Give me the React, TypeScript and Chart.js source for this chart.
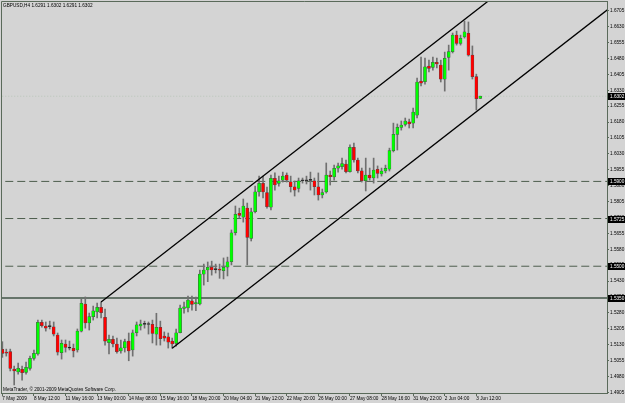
import React, { useEffect, useRef } from "react";
import { Chart, registerables } from "chart.js";

Chart.register(...registerables);

const TITLE = "GBPUSD,H4 1.6291 1.6302 1.6291 1.6302";
const COPYRIGHT = "MetaTrader, \u00A9 2001-2009 MetaQuotes Software Corp.";

const OPEN = [
  1.5108, 1.5095, 1.5097, 1.5015, 1.5002, 1.5014, 1.4999, 1.5018, 1.5065, 1.5086,
  1.5235, 1.5218, 1.5216, 1.5214, 1.5175, 1.5092, 1.5133, 1.5116, 1.5113, 1.5105,
  1.5194, 1.5322, 1.5233, 1.5262, 1.5285, 1.5306, 1.5259, 1.5139, 1.5155, 1.5133,
  1.5101, 1.5115, 1.5147, 1.5105, 1.5186, 1.5218, 1.5227, 1.5226, 1.5226, 1.5180,
  1.5212, 1.5171, 1.5167, 1.5147, 1.5136, 1.5186, 1.5301, 1.5303, 1.5337, 1.5322,
  1.5322, 1.5463, 1.5482, 1.5495, 1.5485, 1.5486, 1.5479, 1.5495, 1.5521, 1.5658,
  1.5749, 1.5731, 1.5774, 1.5631, 1.5757, 1.5851, 1.5891, 1.5847, 1.5778, 1.5915,
  1.5891, 1.5906, 1.5930, 1.5898, 1.5875, 1.5867, 1.5903, 1.5904, 1.5906, 1.5903,
  1.5875, 1.5836, 1.5851, 1.5930, 1.5921, 1.5962, 1.5969, 1.5982, 1.5946, 1.6061,
  1.6001, 1.5950, 1.5903, 1.5930, 1.5917, 1.5957, 1.5935, 1.5949, 1.5958, 1.6045,
  1.6122, 1.6155, 1.6169, 1.6181, 1.6175, 1.6213, 1.6373, 1.6370, 1.6444, 1.6438,
  1.6462, 1.6449, 1.6382, 1.6485, 1.6512, 1.6590, 1.6551, 1.6582, 1.6598, 1.6496,
  1.6394, 1.6291,
];
const HIGH = [
  1.5144, 1.5109, 1.5109, 1.5029, 1.5043, 1.5029, 1.5048, 1.5076, 1.5105, 1.5246,
  1.5246, 1.5237, 1.5241, 1.5237, 1.5185, 1.5152, 1.5152, 1.5147, 1.5133, 1.5204,
  1.5345, 1.5355, 1.5279, 1.5312, 1.5326, 1.5331, 1.5298, 1.5175, 1.5171, 1.5161,
  1.5152, 1.5156, 1.5185, 1.5199, 1.5237, 1.5246, 1.5241, 1.5237, 1.5246, 1.5278,
  1.5241, 1.5190, 1.5185, 1.5161, 1.5204, 1.5317, 1.5331, 1.5359, 1.5359, 1.5355,
  1.5482, 1.5510, 1.5520, 1.5524, 1.5510, 1.5510, 1.5539, 1.5543, 1.5671, 1.5784,
  1.5774, 1.5817, 1.5798, 1.5774, 1.5878, 1.5925, 1.5925, 1.5873, 1.5930, 1.5940,
  1.5925, 1.5944, 1.5940, 1.5925, 1.5902, 1.5916, 1.5916, 1.5925, 1.5944, 1.5916,
  1.5940, 1.5864, 1.5987, 1.5949, 1.5977, 1.5987, 1.6010, 1.6001, 1.6072, 1.6081,
  1.6010, 1.5963, 1.6010, 1.5963, 1.6010, 1.5973, 1.5963, 1.5977, 1.6057, 1.6175,
  1.6171, 1.6185, 1.6199, 1.6194, 1.6246, 1.6388, 1.6487, 1.6482, 1.6472, 1.6487,
  1.6482, 1.6472, 1.6510, 1.6543, 1.6600, 1.6609, 1.6590, 1.6656, 1.6652, 1.6539,
  1.6406, 1.6302,
];
const LOW = [
  1.5070, 1.5076, 1.5006, 1.4940, 1.4991, 1.4963, 1.4991, 1.5010, 1.5057, 1.5081,
  1.5213, 1.5194, 1.5204, 1.5171, 1.5081, 1.5062, 1.5095, 1.5105, 1.5072, 1.5095,
  1.5190, 1.5208, 1.5199, 1.5246, 1.5256, 1.5256, 1.5128, 1.5086, 1.5119, 1.5090,
  1.5090, 1.5095, 1.5054, 1.5076, 1.5171, 1.5199, 1.5208, 1.5180, 1.5138, 1.5128,
  1.5128, 1.5147, 1.5114, 1.5113, 1.5123, 1.5185, 1.5279, 1.5284, 1.5293, 1.5290,
  1.5317, 1.5411, 1.5427, 1.5458, 1.5468, 1.5443, 1.5440, 1.5454, 1.5506, 1.5647,
  1.5727, 1.5708, 1.5506, 1.5619, 1.5751, 1.5831, 1.5822, 1.5774, 1.5765, 1.5859,
  1.5878, 1.5897, 1.5897, 1.5850, 1.5831, 1.5850, 1.5892, 1.5888, 1.5859, 1.5836,
  1.5812, 1.5822, 1.5845, 1.5883, 1.5906, 1.5944, 1.5958, 1.5940, 1.5944, 1.5991,
  1.5940, 1.5897, 1.5855, 1.5906, 1.5892, 1.5916, 1.5925, 1.5940, 1.5949, 1.6039,
  1.6048, 1.6142, 1.6161, 1.6152, 1.6152, 1.6199, 1.6350, 1.6359, 1.6416, 1.6425,
  1.6435, 1.6369, 1.6326, 1.6425, 1.6506, 1.6543, 1.6543, 1.6576, 1.6491, 1.6383,
  1.6237, 1.6291,
];
const CLOSE = [
  1.5089, 1.5090, 1.5018, 1.5006, 1.5018, 1.4998, 1.5023, 1.5065, 1.5089, 1.5235,
  1.5219, 1.5208, 1.5215, 1.5180, 1.5094, 1.5136, 1.5117, 1.5114, 1.5101, 1.5194,
  1.5325, 1.5233, 1.5262, 1.5290, 1.5306, 1.5281, 1.5146, 1.5155, 1.5133, 1.5097,
  1.5115, 1.5144, 1.5101, 1.5186, 1.5223, 1.5227, 1.5226, 1.5225, 1.5183, 1.5212,
  1.5158, 1.5161, 1.5142, 1.5133, 1.5186, 1.5303, 1.5309, 1.5340, 1.5320, 1.5328,
  1.5463, 1.5482, 1.5495, 1.5482, 1.5484, 1.5481, 1.5495, 1.5521, 1.5658, 1.5745,
  1.5740, 1.5784, 1.5636, 1.5757, 1.5851, 1.5891, 1.5851, 1.5781, 1.5915, 1.5883,
  1.5903, 1.5925, 1.5906, 1.5875, 1.5859, 1.5903, 1.5904, 1.5903, 1.5905, 1.5875,
  1.5836, 1.5847, 1.5930, 1.5922, 1.5962, 1.5973, 1.5984, 1.5946, 1.6061, 1.6001,
  1.5949, 1.5903, 1.5930, 1.5917, 1.5954, 1.5938, 1.5949, 1.5962, 1.6045, 1.6122,
  1.6155, 1.6166, 1.6185, 1.6171, 1.6227, 1.6369, 1.6364, 1.6441, 1.6433, 1.6462,
  1.6454, 1.6382, 1.6481, 1.6512, 1.6590, 1.6551, 1.6575, 1.6606, 1.6496, 1.6394,
  1.6290, 1.6302,
];

const X_TICK_BARS = [0, 8, 16, 24, 32, 40, 48, 56, 64, 72, 80, 88, 96, 104, 112, 120];
const X_TICK_LABELS = [
  "7 May 2009", "8 May 12:00", "11 May 16:00", "13 May 00:00", "14 May 08:00",
  "15 May 16:00", "18 May 20:00", "20 May 04:00", "21 May 12:00", "22 May 20:00",
  "26 May 00:00", "27 May 08:00", "28 May 16:00", "31 May 22:00", "2 Jun 04:00",
  "3 Jun 12:00",
];
const Y_TICKS = [
  1.4905, 1.498, 1.5055, 1.513, 1.5205, 1.528, 1.5355, 1.543, 1.5505, 1.558,
  1.5655, 1.573, 1.5805, 1.588, 1.5955, 1.603, 1.6105, 1.618, 1.6255, 1.633,
  1.6405, 1.648, 1.6555, 1.663, 1.6705,
];

const DASHED_LEVELS = [1.59, 1.5725, 1.55];
const SOLID_LEVEL = 1.535;
const CURRENT_PRICE = 1.6302;
const MARKER_PRICES = [1.6302, 1.59, 1.5725, 1.55, 1.535];
const UPPER_CHANNEL = [
  { x: 25, y: 1.5331 },
  { x: 130, y: 1.6852 },
];
const LOWER_CHANNEL = [
  { x: 43, y: 1.5113 },
  { x: 160, y: 1.6808 },
];

const X_MIN = -0.34;
const X_MAX = 153.08;
const Y_MIN = 1.4902;
const Y_MAX = 1.6751;

const BG = "#d4d4d4";
const AXIS = "#5a6a5a";
const LEVEL = "#4e5e4e";
const FONT = '"Liberation Sans", Arial, sans-serif';
const FONT_SIZE = 4.7;

export default function App() {
  const ref = useRef<HTMLCanvasElement>(null);

  useEffect(() => {
    const canvas = ref.current;
    if (!canvas) return;

    const bodies = OPEN.map((o, i) => ({ x: i, y: [o, CLOSE[i]] }));
    const wicks = LOW.map((l, i) => ({ x: i, y: [l, HIGH[i]] }));
    const bodyColors = OPEN.map((o, i) =>
      Math.abs(CLOSE[i] - o) < 0.00025 ? "#000000" : CLOSE[i] > o ? "#00ff00" : "#ff0000"
    );

    const hLine = (p: number) => [
      { x: X_MIN - 5, y: p },
      { x: X_MAX + 5, y: p },
    ];

    const overlay = {
      id: "mtOverlay",
      beforeDraw(chart: any) {
        const c = chart.ctx;
        c.save();
        c.fillStyle = BG;
        c.fillRect(0, 0, chart.width, chart.height);
        c.restore();
      },
      afterDraw(chart: any) {
        const c = chart.ctx;
        const { left, top, right, bottom } = chart.chartArea;
        const ys = chart.scales.y;
        c.save();
        c.strokeStyle = AXIS;
        c.lineWidth = 1;
        c.beginPath();
        c.moveTo(left + 0.5, bottom);
        c.lineTo(left + 0.5, top + 0.5);
        c.lineTo(right, top + 0.5);
        c.stroke();

        c.font = `${FONT_SIZE}px ${FONT}`;
        c.textBaseline = "middle";
        c.textAlign = "left";
        c.fillStyle = "#000";
        c.fillText(TITLE, 3, 5.5);
        c.fillText(COPYRIGHT, 3, 390);

        MARKER_PRICES.forEach((p) => {
          const y = ys.getPixelForValue(p);
          c.fillStyle = "#000";
          c.fillRect(right + 1, Math.round(y) - 3, 17, 7);
          c.fillStyle = "#fff";
          c.fillText(p.toFixed(4), right + 3, Math.round(y) + 0.5);
        });
        c.restore();
      },
    };

    const chart = new Chart(canvas, {
      type: "bar",
      data: {
        datasets: [
          {
            type: "line",
            data: UPPER_CHANNEL,
            borderColor: "#000",
            borderWidth: 1.3,
            pointRadius: 0,
            fill: false,
            order: 0,
          },
          {
            type: "line",
            data: LOWER_CHANNEL,
            borderColor: "#000",
            borderWidth: 1.3,
            pointRadius: 0,
            fill: false,
            order: 0,
          },
          {
            type: "bar",
            data: bodies,
            backgroundColor: bodyColors,
            borderColor: "#4a4a4a",
            borderWidth: 0.5,
            borderSkipped: false,
            barThickness: 3,
            minBarLength: 1,
            grouped: false,
            order: 1,
          },
          {
            type: "bar",
            data: wicks,
            backgroundColor: "#707070",
            barThickness: 1,
            grouped: false,
            order: 2,
          },
          ...DASHED_LEVELS.map((p) => ({
            type: "line",
            data: hLine(p),
            borderColor: LEVEL,
            borderWidth: 1,
            borderDash: [8, 4],
            pointRadius: 0,
            fill: false,
            order: 3,
          })),
          {
            type: "line",
            data: hLine(SOLID_LEVEL),
            borderColor: "#66746a",
            borderWidth: 2,
            pointRadius: 0,
            fill: false,
            order: 3,
          },
          {
            type: "line",
            data: hLine(CURRENT_PRICE),
            borderColor: "#b8c6b8",
            borderWidth: 1,
            borderDash: [1, 2],
            pointRadius: 0,
            fill: false,
            order: 4,
          },
        ] as any,
      },
      options: {
        responsive: false,
        animation: false,
        devicePixelRatio: 1,
        layout: { padding: { left: 1, top: 1, right: 0, bottom: 0 } },
        plugins: { legend: { display: false }, tooltip: { enabled: false } },
        scales: {
          x: {
            type: "linear",
            min: X_MIN,
            max: X_MAX,
            bounds: "data",
            offset: false,
            afterBuildTicks: (s: any) => {
              s.ticks = X_TICK_BARS.map((v) => ({ value: v }));
            },
            afterFit: (s: any) => {
              s.height = 10;
              s.paddingLeft = 0;
              s.paddingRight = 0;
            },
            ticks: {
              autoSkip: false,
              maxRotation: 0,
              minRotation: 0,
              align: "start",
              padding: 0,
              color: "#000",
              font: { family: FONT, size: FONT_SIZE },
              callback: (v: any) => {
                const k = X_TICK_BARS.indexOf(Number(v));
                return k >= 0 ? X_TICK_LABELS[k] : "";
              },
            },
            grid: { drawOnChartArea: false, drawTicks: true, tickLength: 3, color: AXIS, offset: false },
            border: { display: true, color: AXIS, width: 1 },
          },
          y: {
            type: "linear",
            position: "right",
            min: Y_MIN,
            max: Y_MAX,
            bounds: "data",
            afterBuildTicks: (s: any) => {
              s.ticks = Y_TICKS.map((v) => ({ value: v }));
            },
            afterFit: (s: any) => {
              s.width = 18;
              s.paddingTop = 0;
              s.paddingBottom = 0;
            },
            ticks: {
              padding: 1,
              color: "#000",
              font: { family: FONT, size: FONT_SIZE },
              callback: (v: any) => Number(v).toFixed(4),
            },
            grid: { drawOnChartArea: false, drawTicks: true, tickLength: 2, color: AXIS },
            border: { display: true, color: AXIS, width: 1 },
          },
        },
      } as any,
      plugins: [overlay],
    } as any);

    return () => chart.destroy();
  }, []);

  return (
    <div style={{ position: "fixed", left: 0, top: 0, width: 625, height: 403, background: BG }}>
      <canvas ref={ref} width={625} height={403} style={{ display: "block", width: 625, height: 403 }} />
    </div>
  );
}
